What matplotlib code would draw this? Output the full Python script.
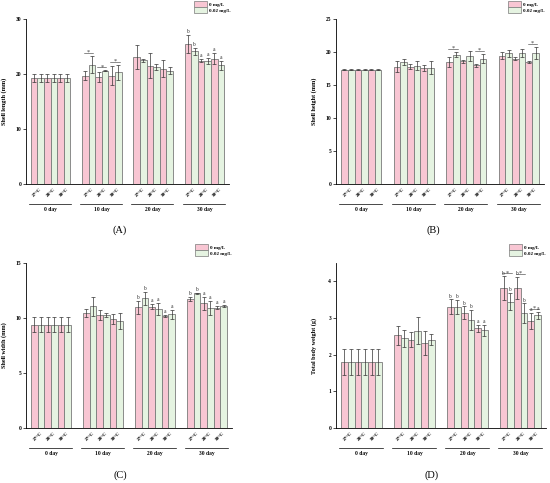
import matplotlib
matplotlib.use("Agg")
import matplotlib.pyplot as plt
import matplotlib.transforms as mtransforms
import numpy as np

plt.rcParams['font.family'] = ['Liberation Serif', 'DejaVu Serif']

days = ['0 day', '10 day', '20 day', '30 day']
temps = ['27°C', '28°C', '30°C']
series_names = ['0 mg/L', '0.02 mg/L']

# ---- Panel A: shell length (mm) ----
A_mean0 = [19.3, 19.3, 19.3, 19.7, 19.4, 19.7, 23.1, 21.5, 21.0, 25.5, 22.4, 22.8]
A_err0 = [0.7, 0.7, 0.7, 0.8, 0.9, 1.7, 2.2, 2.3, 1.5, 1.6, 0.3, 1.0]
A_mean2 = [19.3, 19.3, 19.3, 21.7, 20.6, 20.3, 22.5, 21.3, 20.6, 24.1, 22.4, 21.6]
A_err2 = [0.7, 0.7, 0.7, 1.6, 0.1, 1.4, 0.3, 0.5, 0.6, 0.6, 0.6, 0.8]
A_let0 = ['', '', '', '', '', '', '', '', '', 'b', 'a', 'a']
A_let2 = ['', '', '', '', '', '', '', '', '', 'b', 'a', 'a']
A_star = [0, 0, 0, 1, 1, 1, 0, 0, 0, 0, 0, 0]

# ---- Panel B: shell height (mm) ----
B_mean0 = [17.3, 17.3, 17.3, 17.8, 17.8, 17.6, 18.5, 18.6, 18.0, 19.45, 19.0, 18.5]
B_err0 = [0.1, 0.1, 0.1, 0.8, 0.4, 0.5, 0.7, 0.2, 0.2, 0.5, 0.2, 0.2]
B_mean2 = [17.3, 17.3, 17.3, 18.5, 17.9, 17.6, 19.6, 19.4, 19.0, 19.8, 19.9, 19.9]
B_err2 = [0.1, 0.1, 0.1, 0.5, 0.7, 1.0, 0.4, 0.75, 0.7, 0.5, 0.6, 0.9]
B_let0 = ['', '', '', '', '', '', '', '', '', '', '', '']
B_let2 = ['', '', '', '', '', '', '', '', '', '', '', '']
B_star = [0, 0, 0, 0, 0, 0, 1, 0, 1, 0, 0, 1]

# ---- Panel C: shell width (mm) ----
C_mean0 = [9.4, 9.4, 9.4, 10.45, 10.3, 9.9, 10.97, 11.03, 10.2, 11.73, 11.33, 10.94]
C_err0 = [0.7, 0.7, 0.7, 0.4, 0.45, 0.45, 0.6, 0.25, 0.1, 0.2, 0.6, 0.15]
C_mean2 = [9.4, 9.4, 9.4, 11.05, 10.3, 9.75, 11.8, 10.8, 10.33, 12.24, 10.9, 11.12]
C_err2 = [0.7, 0.7, 0.7, 0.9, 0.2, 0.75, 0.6, 0.55, 0.4, 0.05, 0.65, 0.1]
C_let0 = ['', '', '', '', '', '', 'b', 'a', 'a', 'b', 'a', 'a']
C_let2 = ['', '', '', '', '', '', 'b', 'a', 'a', 'b', 'a', 'a']
C_star = [0, 0, 0, 0, 0, 0, 0, 0, 0, 0, 0, 0]

# ---- Panel D: total body weight (g) ----
D_mean0 = [1.8, 1.8, 1.8, 2.53, 2.41, 2.32, 3.31, 3.15, 2.72, 3.82, 3.83, 2.92]
D_err0 = [0.35, 0.35, 0.35, 0.26, 0.21, 0.33, 0.2, 0.17, 0.1, 0.32, 0.3, 0.22]
D_mean2 = [1.8, 1.8, 1.8, 2.45, 2.65, 2.41, 3.30, 2.95, 2.66, 3.45, 3.13, 3.07]
D_err2 = [0.35, 0.35, 0.35, 0.23, 0.37, 0.15, 0.2, 0.27, 0.16, 0.23, 0.27, 0.1]
D_let0 = ['', '', '', '', '', '', 'b', 'b', 'a', 'b', 'b', 'a']
D_let2 = ['', '', '', '', '', '', 'b', 'b', 'a', 'b', 'b', 'a']
D_star = [0, 0, 0, 0, 0, 0, 0, 0, 0, 1, 1, 1]

panels = [
    dict(m0=A_mean0, e0=A_err0, m2=A_mean2, e2=A_err2, l0=A_let0, l2=A_let2, st=A_star,
         ylabel='Shell length (mm)', ymax=30, yticks=[0, 10, 20, 30], tag='(A)',
         rect=(26, 19, 203, 165), tagpos=(120, 230)),
    dict(m0=B_mean0, e0=B_err0, m2=B_mean2, e2=B_err2, l0=B_let0, l2=B_let2, st=B_star,
         ylabel='Shell height (mm)', ymax=25, yticks=[0, 5, 10, 15, 20, 25], tag='(B)',
         rect=(336, 19, 208, 165), tagpos=(433, 230)),
    dict(m0=C_mean0, e0=C_err0, m2=C_mean2, e2=C_err2, l0=C_let0, l2=C_let2, st=C_star,
         ylabel='Shell width (mm)', ymax=15, yticks=[0, 5, 10, 15], tag='(C)',
         rect=(26, 263, 206, 165), tagpos=(120, 475)),
    dict(m0=D_mean0, e0=D_err0, m2=D_mean2, e2=D_err2, l0=D_let0, l2=D_let2, st=D_star,
         ylabel='Total body weight (g)', ymax=4.5, yticks=[0, 1, 2, 3, 4], tag='(D)',
         rect=(336, 263, 210, 165), tagpos=(432, 475)),
]

W, H = 550, 483
fig = plt.figure(figsize=(W / 100, H / 100), dpi=100)

PINK = '#F8C6D3'
GREEN = '#E5F3E1'
EDGE = '#7a7a7a'
P = 7.8  # group pitch in bar widths

for p in panels:
    lx, ty, w, h = p['rect']
    ax = fig.add_axes([lx / W, 1 - (ty + h) / H, w / W, h / H])
    n = len(p['m0'])
    g = np.arange(n) // 3
    t = np.arange(n) % 3
    x0 = g * P + 2 * t + 0.5
    x2 = x0 + 1
    ekw = dict(elinewidth=0.5, ecolor='#333333', capthick=0.5)
    ax.bar(x0, p['m0'], width=1, color=PINK, edgecolor=EDGE, linewidth=0.6,
           yerr=p['e0'], capsize=1.4, error_kw=ekw, label=series_names[0], zorder=2)
    ax.bar(x2, p['m2'], width=1, color=GREEN, edgecolor=EDGE, linewidth=0.6,
           yerr=p['e2'], capsize=1.4, error_kw=ekw, label=series_names[1], zorder=2)
    ymax = p['ymax']
    ax.set_ylim(0, ymax)
    ax.set_xlim(-0.75, 3 * P + 6 + 0.75)
    ax.set_yticks(p['yticks'])
    ax.set_yticklabels([str(v) for v in p['yticks']], fontsize=4, fontweight='bold')
    ax.tick_params(axis='y', direction='out', length=2, width=0.5, pad=1.5)
    ax.set_xticks([])
    for s in ['top', 'right']:
        ax.spines[s].set_visible(False)
    for s in ['left', 'bottom']:
        ax.spines[s].set_linewidth(0.6)
    ax.set_ylabel(p['ylabel'], fontsize=4.4, fontweight='bold')
    ax.yaxis.set_label_coords(-19 / w, 0.5)

    trans = mtransforms.blended_transform_factory(ax.transData, ax.transAxes)
    # temperature labels
    for i in range(n):
        ax.text(x0[i] + 0.5, -8 / h, temps[t[i]], transform=trans, rotation=45,
                ha='center', va='center', fontsize=3.8, fontweight='bold')
    # day underline + labels
    for d in range(4):
        ax.plot([d * P - 0.3, d * P + 6.1], [-20 / h, -20 / h], transform=trans,
                color='black', lw=0.5, clip_on=False)
        ax.text(d * P + 3, -25.5 / h, days[d], transform=trans, ha='center',
                va='center', fontsize=4, fontweight='bold')

    # letters
    off = 0.004 * ymax
    for i in range(n):
        if p['l0'][i]:
            ax.text(x0[i], p['m0'][i] + p['e0'][i] + off, p['l0'][i], ha='center',
                    va='bottom', fontsize=4, color='#333333')
        if p['l2'][i]:
            ax.text(x2[i], p['m2'][i] + p['e2'][i] + off, p['l2'][i], ha='center',
                    va='bottom', fontsize=4, color='#333333')
    # significance stars
    for i in range(n):
        if p['st'][i]:
            top = max(p['m0'][i] + p['e0'][i], p['m2'][i] + p['e2'][i]) + 0.018 * ymax
            ax.plot([x0[i] - 0.2, x2[i] + 0.2], [top, top], color='#333333', lw=0.4,
                    clip_on=False)
            ax.text((x0[i] + x2[i]) / 2, top - 0.012 * ymax, '*', ha='center', va='bottom',
                    fontsize=4.5, color='#333333')

    leg = ax.legend(loc='upper left', bbox_to_anchor=((lx + 168 + (w - 203) * 0.8) / W, 1 - 1 / H),
                    bbox_transform=fig.transFigure, frameon=False, fontsize=3.6,
                    handlelength=2.6, handleheight=1.5, handletextpad=0.4,
                    labelspacing=0.05, borderpad=0, borderaxespad=0,
                    prop=dict(weight='bold', size=3.6))
    for hnd in leg.legend_handles:
        hnd.set_linewidth(0.5)
    if ty > 100:
        leg.set_bbox_to_anchor(((lx + 167 + (w - 203) * 0.8) / W, 1 - 244 / H), transform=fig.transFigure)

    fig.text(p['tagpos'][0] / W, 1 - p['tagpos'][1] / H, p['tag'], ha='center', va='center',
             fontsize=7.5)

fig.savefig('out.png', dpi=100)
